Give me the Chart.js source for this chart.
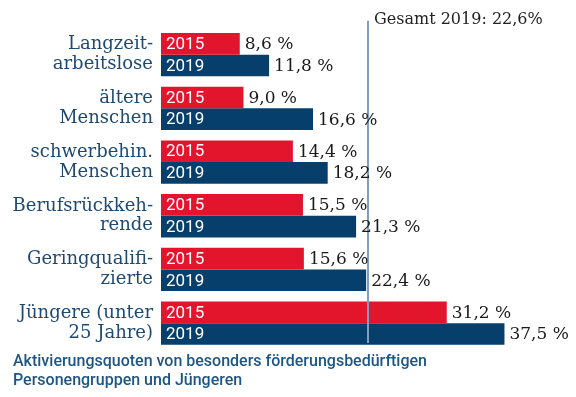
<!DOCTYPE html>
<html lang="de">
<head>
    <meta charset="UTF-8">
    <script src="https://cdn.jsdelivr.net/npm/chart.js"></script>
    <title>Aktivierungsquoten</title>
    <style>
        html, body { margin: 0; padding: 0; background: #fff; }
        #wrap { width: 576px; height: 397px; }
    </style>
</head>
<body>
    <div id="wrap">
        <canvas id="myChart"></canvas>
    </div>
<script>
    // data
    const groups = [
        ['Langzeit-', 'arbeitslose'],
        ['ältere', 'Menschen'],
        ['schwerbehin.', 'Menschen'],
        ['Berufsrückkeh-', 'rende'],
        ['Geringqualifi-', 'zierte'],
        ['Jüngere (unter', '25 Jahre)']
    ];
    const years = ['2015', '2019'];
    const values2015 = [8.6, 9.0, 14.4, 15.5, 15.6, 31.2];
    const values2019 = [11.8, 16.6, 18.2, 21.3, 22.4, 37.5];
    const gesamt2019 = 22.6;
    const caption = ['Aktivierungsquoten von besonders förderungsbedürftigen', 'Personengruppen und Jüngeren'];

    const red = '#e2152c';
    const navy = '#063f6c';
    const slab = '"DejaVu Serif", serif';

    // draws year names in the bars, values after them and the total line
    const labelPlugin = {
        id: 'labels',
        afterDatasetsDraw(chart) {
            const ctx = chart.ctx;
            const xs = chart.scales.x;
            const area = chart.chartArea;
            const lx = xs.getPixelForValue(gesamt2019);

            ctx.save();
            ctx.strokeStyle = '#7f9fc2';
            ctx.lineWidth = 2;
            ctx.beginPath();
            ctx.moveTo(lx, area.top - 7);
            ctx.lineTo(lx, area.bottom - 7);
            ctx.stroke();

            ctx.fillStyle = '#222';
            ctx.font = '16px ' + slab;
            ctx.textBaseline = 'middle';
            ctx.textAlign = 'left';
            ctx.fillText('Gesamt ' + years[1] + ': ' + String(gesamt2019).replace('.', ',') + '%', lx + 6, 20);

            chart.data.datasets.forEach((ds, i) => {
                const meta = chart.getDatasetMeta(i);
                meta.data.forEach((bar, j) => {
                    ctx.fillStyle = '#fff';
                    ctx.font = '17px Roboto';
                    ctx.fillText(ds.label, bar.base + 5, bar.y + 1);
                    ctx.fillStyle = '#1a1a1a';
                    ctx.font = '17px ' + slab;
                    ctx.fillText(ds.data[j].toFixed(1).replace('.', ',') + ' %', bar.x + 5, bar.y + 1);
                });
            });
            ctx.restore();
        }
    };

    const ctx = document.getElementById('myChart');
    new Chart(ctx, {
        type: 'bar',
        data: {
            labels: groups,
            datasets: [{
                label: years[0],
                data: values2015,
                backgroundColor: red
            }, {
                label: years[1],
                data: values2019,
                backgroundColor: navy
            }]
        },
        options: {
            indexAxis: 'y',
            responsive: true,
            maintainAspectRatio: false,
            animation: false,
            categoryPercentage: 0.806,
            barPercentage: 1,
            layout: {
                padding: { left: 13, right: 12, top: 15.6, bottom: 0 }
            },
            scales: {
                x: {
                    display: false,
                    min: 0,
                    max: 44
                },
                y: {
                    grid: { display: false, drawTicks: false },
                    border: { display: false },
                    ticks: {
                        color: '#1e4a72',
                        padding: 8,
                        font: { family: slab, size: 18, lineHeight: 1.1 }
                    },
                    afterFit(scale) { scale.width = 148; }
                }
            },
            plugins: {
                legend: { display: false },
                tooltip: { enabled: false },
                title: {
                    display: true,
                    position: 'bottom',
                    align: 'start',
                    text: caption,
                    color: '#1d5686',
                    font: { family: 'Roboto', size: 16, weight: '500', lineHeight: 1.2 },
                    padding: { top: 2, bottom: 6.6 }
                }
            }
        },
        plugins: [labelPlugin]
    });
</script>
</body>
</html>
